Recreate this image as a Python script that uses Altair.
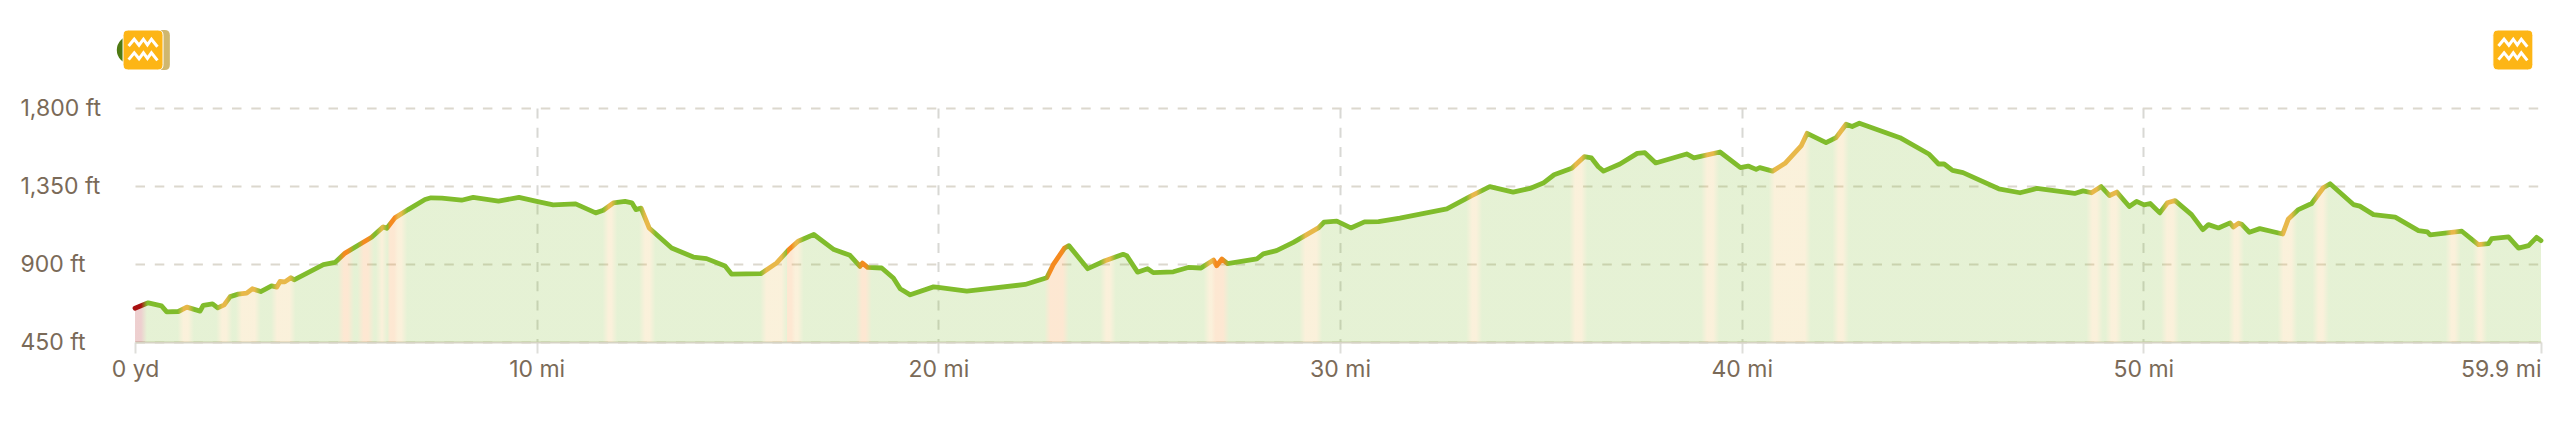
import altair as alt
import pandas as pd

mi = [0,0.33,0.66,0.79,1.08,1.29,1.62,1.70,1.93,2.06,2.22,2.37,2.57,2.78,2.92,3.13,3.40,3.53,3.61,3.73,3.88,3.96,4.69,4.98,5.23,5.89,6.18,6.27,6.47,6.80,7.22,
      7.37,7.64,8.13,8.42,9.05,9.56,10.0,10.41,10.97,11.47,11.66,11.91,12.2,12.37,12.47,12.60,12.80,13.36,13.90,14.23,14.69,
      14.85,15.58,15.97,16.26,16.51,16.90,17.40,17.80,18.05,18.11,18.24,18.59,18.88,19.05,19.30,19.88,20.0,20.71,22.16,
      22.70,22.86,23.14,23.25,23.72,24.15,24.60,24.69,24.96,25.21,25.35,25.85,26.22,26.54,26.85,26.93,27.06,27.20,27.93,28.09,28.42,28.84,29.46,29.60,29.92,30.27,30.61,30.96,31.49,
      32.66,33.28,33.73,34.31,34.73,35.06,35.33,35.77,36.08,36.26,36.43,36.56,36.97,37.40,37.59,37.86,38.63,38.81,39.46,39.97,40.16,40.36,40.45,40.77,41.08,41.48,41.63,42.10,42.35,42.60,42.75,42.93,43.94,
      44.67,44.90,45.04,45.25,45.51,46.40,46.93,47.35,48.29,48.50,48.71,48.95,49.16,49.34,49.65,49.83,50.02,
      50.17,50.41,50.60,50.79,51.20,51.48,51.62,51.87,52.16,52.24,52.37,52.45,52.64,52.90,53.47,53.61,53.86,54.19,54.48,54.65,55.23,55.39,55.73,56.27,56.85,57.07,57.14,57.93,58.34,58.59,58.67,59.09,59.34,59.59,59.79,59.9]
ft = [645,676,658,624,626,651,628,662,670,647,664,712,726,732,757,741,774,767,799,797,821,809,896,909,963,1054,1114,1106,1166,1214,1272,
      1282,1280,1268,1284,1263,1284,1261,1241,1247,1195,1210,1253,1261,1253,1214,1222,1108,992,940,931,888,
      842,844,905,979,1031,1070,983,950,886,905,880,877,819,757,722,768,765,743,782,
      821,896,992,1006,873,919,956,948,853,873,850,855,880,877,923,890,929,902,929,958,977,1025,1108,1141,1147,1108,1143,1145,1165,
      1218,1295,1346,1315,1336,1367,1415,1452,1519,1512,1461,1436,1477,1538,1542,1483,1535,1512,1546,1456,1465,1446,1456,1436,1481,1581,1654,1600,1629,1706,1693,1712,1629,
      1533,1477,1477,1440,1427,1334,1311,1336,1307,1322,1311,1347,1295,1315,1232,1261,1241,
      1249,1195,1253,1266,1185,1098,1127,1108,1137,1114,1135,1129,1083,1104,1073,1160,1214,1249,1340,1363,1243,1234,1185,1170,1093,1085,1068,1089,1012,1017,1046,1056,992,1006,1054,1035]

GREEN, YELLOW, ORANGE, RED = "#80bc2c", "#e8b84a", "#f58a1f", "#a81010"
grade_start = [0,1.16,2.12,2.61,3.49,5.15,5.64,6.10,6.30,6.50,11.74,12.65,15.67,16.19,16.39,18.05,22.74,24.13,26.70,26.85,29.09,33.24,35.81,39.09,40.77,42.36,48.68,49.16,50.54,52.22,53.44,54.31,57.62,58.30]
grade_end   = [0.20,1.37,2.32,3.03,3.90,5.35,5.85,6.18,6.50,6.68,11.91,12.86,16.14,16.39,16.55,18.24,23.15,24.32,26.85,27.14,29.46,33.44,36.06,39.34,41.62,42.57,48.89,49.37,50.79,52.41,53.73,54.52,57.80,58.46]
grade_col   = [RED,YELLOW,YELLOW,YELLOW,YELLOW,ORANGE,ORANGE,YELLOW,ORANGE,YELLOW,YELLOW,YELLOW,YELLOW,ORANGE,YELLOW,ORANGE,ORANGE,YELLOW,YELLOW,ORANGE,YELLOW,YELLOW,YELLOW,YELLOW,YELLOW,YELLOW,YELLOW,YELLOW,YELLOW,YELLOW,YELLOW,YELLOW,YELLOW,YELLOW]

TOTAL = 59.9
y_ticks = [450, 900, 1350, 1800]
x_ticks = [0, 10, 20, 30, 40, 50, 59.9]

stops = [alt.GradientStop(offset=0, color=grade_col[0])]
fade = 0.15
inset = 0.05
for i, (a, b, c) in enumerate(zip(grade_start, grade_end, grade_col)):
    touching_prev = i > 0 and abs(grade_end[i - 1] - a) < 0.02
    touching_next = i + 1 < len(grade_start) and abs(grade_start[i + 1] - b) < 0.02
    if a > 0:
        if not touching_prev:
            stops.append(alt.GradientStop(offset=(a - fade + inset) / TOTAL, color=GREEN))
        stops.append(alt.GradientStop(offset=(a + inset) / TOTAL, color=c))
    stops.append(alt.GradientStop(offset=(b - inset) / TOTAL, color=c))
    if not touching_next:
        stops.append(alt.GradientStop(offset=(b + fade - inset) / TOTAL, color=GREEN))
stops.append(alt.GradientStop(offset=1, color=GREEN))

grad = alt.LinearGradient(gradient="linear", x1=0, x2=1, y1=0, y2=0, stops=stops)

df = pd.DataFrame({"mi": mi, "ft": ft})
xs = alt.Scale(domain=[0, TOTAL], nice=False, zero=False)
ys = alt.Scale(domain=[450, 1800], nice=False, zero=False)

FONT = "Inter"
TXT = "#7a6a58"

x_axis = alt.Axis(
    values=x_ticks, title=None, grid=True,
    gridColor="#d8d8d4", gridWidth=2, gridDash=[10, 9.2],
    gridOpacity={"condition": {"test": "datum.value == 0 || datum.value > 59", "value": 0}, "value": 1},
    domainColor="#d6d3c4", domainWidth=2,
    tickColor="#dededa", tickWidth=2, tickSize=11,
    labelFont=FONT, labelFontSize=23, labelColor=TXT, labelPadding=5,
    labelAlign={"condition": {"test": "datum.value > 59", "value": "right"}, "value": "center"},
    labelExpr="datum.value == 0 ? '0 yd' : datum.value + ' mi'",
    labelOverlap=False, labelBound=False, labelFlush=False,
)
y_axis = alt.Axis(
    values=y_ticks, title=None, grid=True,
    gridColor="#dcd8ce", gridWidth=2, gridDash=[9.5, 9.8],
    domain=False, ticks=False,
    labelFont=FONT, labelFontSize=23, labelColor=TXT, labelAlign="left", labelBaseline="middle",
    labelPadding=115, labelOverlap=False, labelBound=False, labelFlush=False,
    labelExpr="format(datum.value, ',') + ' ft'",
)

area = alt.Chart(df).mark_area(color=grad, opacity=0.2, line=False).encode(
    x=alt.X("mi:Q", scale=xs, axis=x_axis),
    y=alt.Y("ft:Q", scale=ys, axis=y_axis, stack=None),
    y2=alt.value(234),
)
line = alt.Chart(df).mark_line(color=grad, strokeWidth=4.8, strokeJoin="round", strokeCap="round").encode(
    x=alt.X("mi:Q", scale=xs), y=alt.Y("ft:Q", scale=ys),
)

ICON_SQ = "M-0.37,-0.5 L0.37,-0.5 Q0.5,-0.5 0.5,-0.37 L0.5,0.37 Q0.5,0.5 0.37,0.5 L-0.37,0.5 Q-0.5,0.5 -0.5,0.37 L-0.5,-0.37 Q-0.5,-0.5 -0.37,-0.5 Z"
ICON_WAVE = ("M-0.36,-0.1 L-0.22,-0.27 L-0.1,-0.12 L0.01,-0.27 L0.11,-0.13 L0.21,-0.27 L0.36,-0.08 "
             "M-0.36,0.24 L-0.22,0.07 L-0.1,0.22 L0.01,0.07 L0.11,0.21 L0.21,0.07 L0.36,0.26")
icon_y = -58
icon_mi = [0.2, 59.2]
ICON_SIZE = 6400

def mark_at(xs_list, **kw):
    return alt.Chart(pd.DataFrame({"mi": xs_list})).mark_point(**kw).encode(
        x=alt.X("mi:Q", scale=xs), y=alt.value(icon_y))

circle = mark_at([-0.1], shape="circle", size=804, filled=True, color="#4f7a12", opacity=1)
beige = mark_at([0.37], shape=ICON_SQ, size=ICON_SIZE, filled=True, color="#cfb76f", opacity=1)
sq = mark_at(icon_mi, shape=ICON_SQ, size=ICON_SIZE, filled=True, fill="#fdb515", stroke="#ffffff", strokeWidth=1, opacity=1)
wave = mark_at(icon_mi, shape=ICON_WAVE, size=ICON_SIZE, filled=False, stroke="#ffffff", strokeWidth=3, opacity=1)

chart = alt.layer(area, line, circle, beige, sq, wave).properties(
    width=2406, height=234,
    padding={"left": 127, "top": 100, "right": 11, "bottom": 60},
    autosize=alt.AutoSizeParams(type="none"),
).configure_view(stroke=None)

chart.save("out.html", embed_options={"renderer": "svg", "actions": False})
